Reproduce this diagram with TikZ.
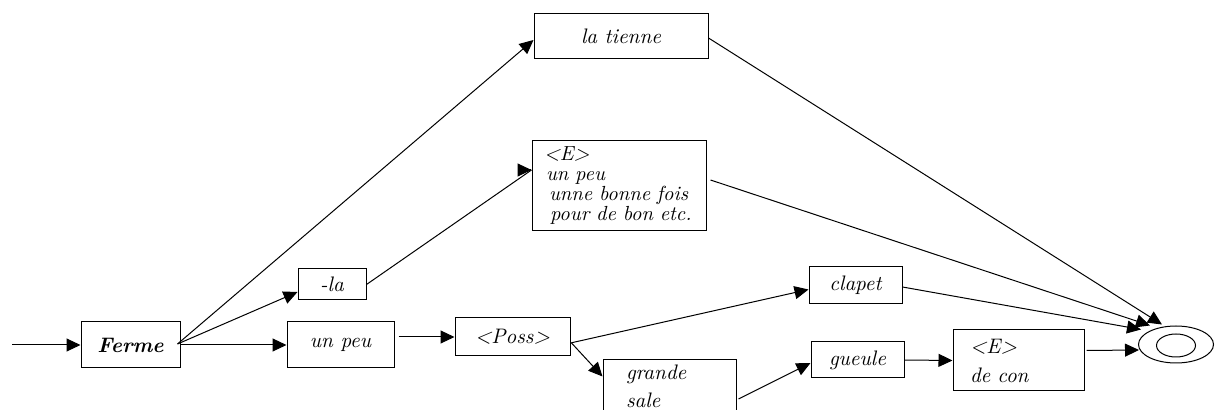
\documentclass[tikz,border=0pt]{standalone}
\usetikzlibrary{arrows.meta,calc,shapes.geometric}
\begin{document}
\begin{tikzpicture}[x=0.5pt,y=-0.5pt,
  bx/.style 2 args={draw, line width=0.5pt, rectangle, minimum width=#1*0.5pt, minimum height=#2*0.5pt, inner sep=0pt, font=\itshape\fontsize{10.5}{12}\selectfont},
  lbx/.style n args={4}{draw, line width=0.5pt, rectangle, minimum width=#1*0.5pt, minimum height=#2*0.5pt, inner xsep=#3*0.5pt, inner ysep=0pt, text width=#4*0.5pt, align=left},
  arr/.style={-{Triangle[length=7pt,width=6.5pt]}, line width=0.5pt},
  ln/.style={line width=0.5pt},
  fin/.style={draw, line width=0.5pt, ellipse, inner sep=0pt}
]
\useasboundingbox (0,0) rectangle (1215,410);
\clip (0,0) rectangle (1215,410);
% nodes
\node[bx={99}{46}, font=\bfseries\itshape\fontsize{10.5}{12}\selectfont] (ferme) at (130.5,345) {Ferme};
\node[bx={107}{46}] (unpeu) at (340.5,345) {un peu};
\node[bx={68}{31}] (la) at (332,284.5) {-la};
\node[bx={115}{38}] (poss) at (512.5,337) {\textless Poss\textgreater};
\node[lbx={133}{52}{23}{87}, font=\itshape\fontsize{10.5}{14}\selectfont] (grande) at (669.5,386) {grande\\sale};
\node[bx={174}{45}] (latienne) at (621,36.5) {la tienne};
\node[lbx={174}{90}{12}{150}, font=\itshape\fontsize{10.2}{10}\selectfont] (ebox) at (619,186) {\textless E\textgreater\\\hspace*{1pt}un peu\\\hspace*{2.5pt}unne bonne fois\\\hspace*{3pt}pour de bon etc.};
\node[bx={93}{37}] (clapet) at (855.5,285.5) {clapet};
\node[bx={93}{36}] (gueule) at (857.5,360) {gueule};
\node[lbx={131}{61}{17}{97}, font=\itshape\fontsize{10.5}{14.5}\selectfont] (econ) at (1018.5,360.5) {\textless E\textgreater\\de con};
\node[fin, minimum width=37.5pt, minimum height=18.5pt] (final) at (1176,344.5) {};
\node[fin, minimum width=19.5pt, minimum height=11.5pt] (finin) at (1176,345.5) {};
\coordinate (in) at (12,345);
% connectors
\draw[arr] (in) -- (ferme.west);
\draw[arr] (ferme.east) -- (unpeu.west);
\draw[arr] ($(ferme.east)+(-3,-1)$) -- ($(latienne.west)+(0,3.5)$);
\draw[arr] ($(ferme.east)+(-3,-1)$) -- ($(la.west)+(0,7.5)$);
\draw[ln] (la.east) -- ($(ebox.west)+(0,-16)$);
\draw[arr] ($(ebox.west)+(-1,-16)$) -- ($(ebox.west)+(0,-16)$);
\draw[arr] ($(unpeu.east |- poss.west)+(4,0)$) -- (poss.west);
\draw[arr] ($(poss.east)+(0,6)$) -- ($(clapet.west)+(0,4)$);
\draw[arr] ($(poss.east)+(1,6)$) -- ($(grande.north west)+(0,17)$);
\draw[arr] ($(grande.east)+(2,13)$) -- ($(gueule.west)+(0,3)$);
\draw[arr] (gueule.east) -- (econ.west);
\draw[arr] ($(econ.east)+(2,-10)$) -- ($(final.west)+(1,5.5)$);
\draw[arr] ($(clapet.east)+(0,1.5)$) -- ($(final.center)+(-35,-15)$);
\draw[arr] ($(ebox.east)+(4,-6)$) -- ($(final.center)+(-26,-19)$);
\draw[arr] ($(latienne.east)+(0,1.5)$) -- ($(final.center)+(-14,-20)$);
\end{tikzpicture}
\end{document}
